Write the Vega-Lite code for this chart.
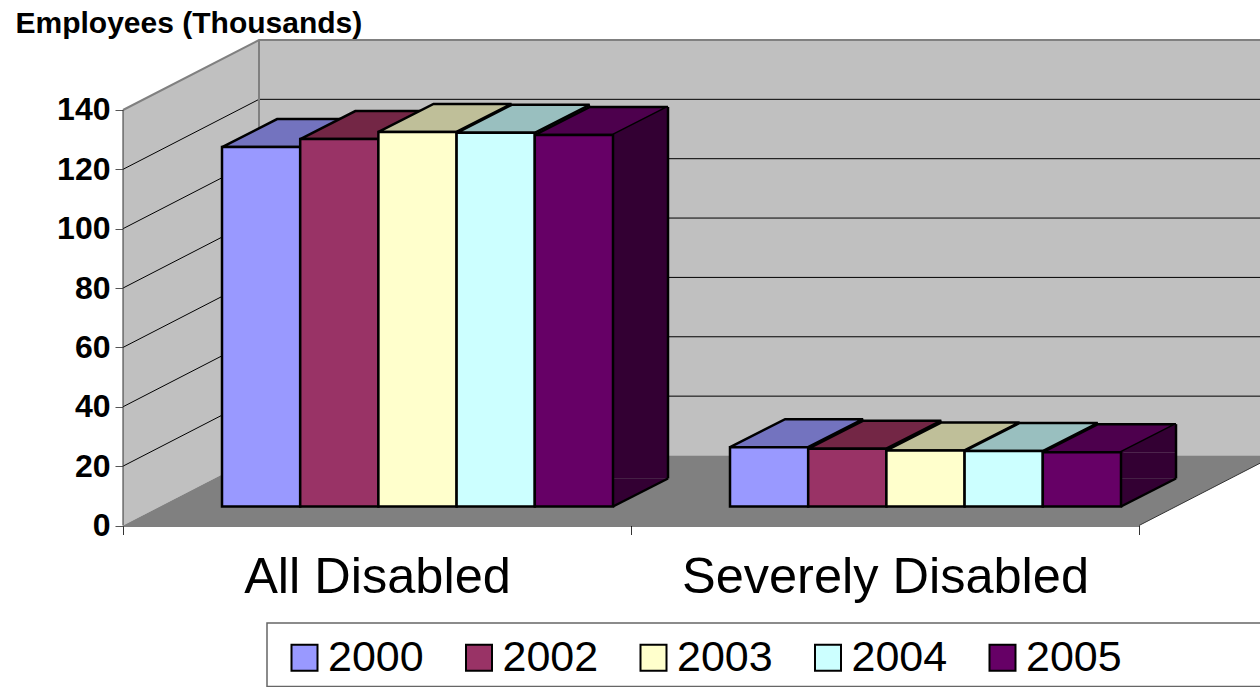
{
"$schema":"https://vega.github.io/schema/vega-lite/v6.json",
"width":1260,"height":687,"padding":0,"autosize":{"type":"none"},"background":"white",
"config":{"view":{"stroke":null},"font":"Liberation Sans"},
"datasets":{
"bars":[
{"category":"All Disabled","year":"2000","value":121.1},
{"category":"All Disabled","year":"2002","value":123.8},
{"category":"All Disabled","year":"2003","value":126.2},
{"category":"All Disabled","year":"2004","value":125.9},
{"category":"All Disabled","year":"2005","value":125.2},
{"category":"Severely Disabled","year":"2000","value":20.0},
{"category":"Severely Disabled","year":"2002","value":19.5},
{"category":"Severely Disabled","year":"2003","value":18.9},
{"category":"Severely Disabled","year":"2004","value":18.7},
{"category":"Severely Disabled","year":"2005","value":18.3}],
"levels":[{"level":20},{"level":40},{"level":60},{"level":80},{"level":100},{"level":120}],
"frame":[{"part":"frame"}]
},
"layer":[
{"data":{"name":"frame"},"mark":{"type":"point","opacity":1,"filled":true,"fill":"#C0C0C0","strokeWidth":0,"size":4,"shape":"M-254,0 L-118,-70 L-118,-485.5 L-254,-415.5 Z"},
 "encoding":{"x":{"datum":"All Disabled","type":"nominal","scale":{"domain":["All Disabled","Severely Disabled"],"range":[123,1139],"paddingInner":0,"paddingOuter":0},
   "axis":{"orient":"bottom","offset":-161.5,"title":null,"labelAngle":0,"labelFontSize":50.5,"labelLimit":0,"labelPadding":18,"labelColor":"black","tickBand":"extent","tickSize":9,"tickColor":"#333","domainColor":"black","domainWidth":1,"grid":false,"labelBaseline":"top"}},
  "y":{"datum":0,"type":"quantitative","scale":{"domain":[-54.41,177.05],"nice":false,"zero":false},
   "axis":{"title":"Employees (Thousands)","orient":"left","offset":-123,"values":[0,20,40,60,80,100,120,140],"domain":false,"grid":false,"tickSize":8,"tickColor":"#555","labelFontSize":32,"labelFontWeight":"bold","labelColor":"black","labelPadding":5,"titleAngle":0,"titleAlign":"left","titleBaseline":"alphabetic","titleX":-108,"titleY":32,"titleFontSize":30,"titleFontWeight":"bold","titleColor":"black"}}}},
{"data":{"name":"frame"},"mark":{"type":"point","opacity":1,"filled":true,"fill":"#C0C0C0","strokeWidth":0,"size":4,"shape":"M-118,-70 L1000,-70 L1000,-485.5 L-118,-485.5 Z"},
 "encoding":{"x":{"datum":"All Disabled","type":"nominal"},"y":{"datum":0,"type":"quantitative"}}},
{"data":{"name":"frame"},"mark":{"type":"point","opacity":1,"filled":true,"fill":"#808080","strokeWidth":0,"size":4,"shape":"M-254,0 L762,0 L898,-70 L-118,-70 Z"},
 "encoding":{"x":{"datum":"All Disabled","type":"nominal"},"y":{"datum":0,"type":"quantitative"}}},
{"data":{"name":"levels"},"mark":{"type":"point","opacity":1,"filled":false,"stroke":"black","strokeWidth":1,"size":4,"shape":"M-254,0 L-118,-70 L1000,-70"},
 "encoding":{"x":{"datum":"All Disabled","type":"nominal"},"y":{"field":"level","type":"quantitative"}}},
{"data":{"name":"frame"},"mark":{"type":"point","opacity":1,"filled":false,"stroke":"#808080","strokeWidth":2,"size":4,"shape":"M-254,-415.5 L-118,-485.5 L1000,-485.5 M-118,-485.5 L-118,-70"},
 "encoding":{"x":{"datum":"All Disabled","type":"nominal"},"y":{"datum":0,"type":"quantitative"}}},
{"data":{"name":"frame"},"mark":{"type":"point","opacity":1,"filled":false,"stroke":"#333","strokeWidth":1,"size":4,"shape":"M-254,0 L-254,-415.5 M762,0 L898,-70"},
 "encoding":{"x":{"datum":"All Disabled","type":"nominal"},"y":{"datum":0,"type":"quantitative"}}},
{"data":{"name":"frame"},"mark":{"type":"point","opacity":1,"filled":false,"stroke":"#666","strokeWidth":1.5,"size":4,"shape":"M-110,161 L-110,97.5 L885,97.5 L885,161 Z"},
 "encoding":{"x":{"datum":"All Disabled","type":"nominal"},"y":{"datum":0,"type":"quantitative"}}},
{"data":{"name":"bars"},"mark":{"type":"point","opacity":1,"filled":true,"stroke":"black","strokeWidth":2.5,"size":4,"yOffset":-19,"shape":"M-39,0 L39,0 L94,-28 L16,-28 Z"},
 "encoding":{"x":{"field":"category","type":"nominal"},"xOffset":{"field":"year","type":"nominal","sort":["2000","2002","2003","2004","2005"],"scale":{"range":[99,490],"paddingInner":0,"paddingOuter":0}},"y":{"field":"value","type":"quantitative"},
  "fill":{"field":"year","type":"nominal","legend":null,"scale":{"domain":["2005","2004","2003","2002","2000"],"range":["#4D004D","#99BFBF","#BFBF99","#732645","#7373BF"]}}}},
{"data":{"name":"bars"},"transform":[{"filter":"datum.year === '2005'"}],"mark":{"type":"bar","fill":"#330033","strokeWidth":0,"width":55,"xOffset":263.5,"yOffset":-19,"y2Offset":-47},
 "encoding":{"x":{"field":"category","type":"nominal"},"y":{"field":"value","type":"quantitative"},"y2":{"datum":0}}},
{"data":{"name":"bars"},"transform":[{"filter":"datum.year === '2005'"}],"mark":{"type":"point","opacity":1,"filled":true,"fill":"#330033","strokeWidth":0,"size":4,"xOffset":236,"yOffset":-19,"shape":"M0,0 L55,-28 L55,0 Z"},
 "encoding":{"x":{"field":"category","type":"nominal"},"y":{"field":"value","type":"quantitative"}}},
{"data":{"name":"bars"},"transform":[{"filter":"datum.year === '2005'"}],"mark":{"type":"point","opacity":1,"filled":true,"fill":"#330033","strokeWidth":0,"size":4,"xOffset":236,"yOffset":-19,"shape":"M0,0 L55,-28 L0,-28 Z"},
 "encoding":{"x":{"field":"category","type":"nominal"},"y":{"datum":0,"type":"quantitative"}}},
{"data":{"name":"bars"},"transform":[{"filter":"datum.year === '2005'"}],"mark":{"type":"point","opacity":1,"filled":false,"stroke":"black","strokeWidth":2.5,"size":4,"xOffset":236,"yOffset":-19,"shape":"M0,0 L55,-28"},
 "encoding":{"x":{"field":"category","type":"nominal"},"y":{"datum":0,"type":"quantitative"}}},
{"data":{"name":"bars"},"transform":[{"filter":"datum.year === '2005'"}],"mark":{"type":"rule","stroke":"black","strokeWidth":2.5,"xOffset":291,"yOffset":-47,"y2Offset":-47},
 "encoding":{"x":{"field":"category","type":"nominal"},"y":{"field":"value","type":"quantitative"},"y2":{"datum":0}}},
{"data":{"name":"bars"},"mark":{"type":"bar","stroke":"black","strokeWidth":2.5,"yOffset":-19,"y2Offset":-19},
 "encoding":{"x":{"field":"category","type":"nominal"},"xOffset":{"field":"year","type":"nominal"},"y":{"field":"value","type":"quantitative"},"y2":{"datum":0},
  "color":{"field":"year","type":"nominal","title":null,"scale":{"domain":["2000","2002","2003","2004","2005"],"range":["#9999FF","#993366","#FFFFCC","#CCFFFF","#660066"]},
   "legend":{"orient":"none","legendX":283,"legendY":636,"direction":"horizontal","columns":5,"padding":0,"symbolType":"square","symbolSize":676,"symbolStrokeColor":"black","symbolStrokeWidth":2,"symbolOpacity":1,"labelFontSize":43,"labelColor":"black","labelOffset":2,"columnPadding":33.5}}}}
]
}
